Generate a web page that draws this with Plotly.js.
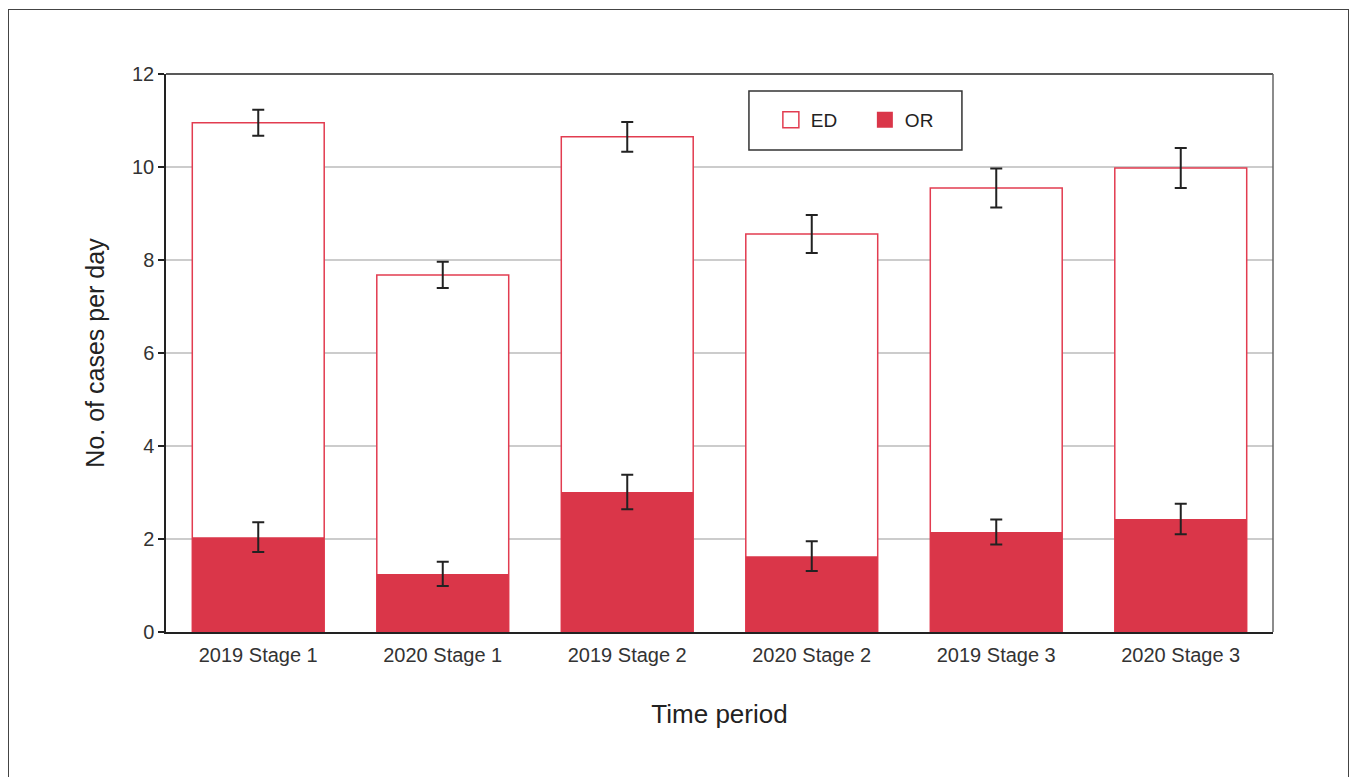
<!DOCTYPE html>
<html><head><meta charset="utf-8">
<script src="https://cdn.plot.ly/plotly-3.0.1.min.js"></script>
<style>
html,body{margin:0;padding:0;background:#fff;overflow:hidden}
#frame{position:absolute;left:8px;top:9px;width:1341px;height:800px;border:1.5px solid #444;box-sizing:border-box;pointer-events:none;z-index:5}
#chart{width:1355px;height:777px}
</style></head>
<body>
<div id="frame"></div>
<div id="chart"></div>
<script>
const categories = ["2019 Stage 1","2020 Stage 1","2019 Stage 2","2020 Stage 2","2019 Stage 3","2020 Stage 3"];
const edValues = [10.95, 7.68, 10.65, 8.56, 9.55, 9.98];
const edErrors = [0.28, 0.28, 0.32, 0.41, 0.42, 0.43];
const orValues = [2.04, 1.25, 3.01, 1.63, 2.15, 2.43];
const orErrors = [0.32, 0.26, 0.37, 0.32, 0.27, 0.33];
const seriesNames = ["ED", "OR"];

const red = "rgb(218,54,73)";
const edLine = "rgb(226,60,80)";
const traces = [
  {type:"bar", name:seriesNames[0], x:categories, y:edValues, showlegend:false,
   marker:{color:"#ffffff", line:{color:edLine, width:1.5}},
   error_y:{type:"data", array:edErrors, visible:true, color:"#222", thickness:2, width:6}},
  {type:"bar", name:seriesNames[1], x:categories, y:orValues, showlegend:false,
   marker:{color:red, line:{color:red, width:0}},
   error_y:{type:"data", array:orErrors, visible:true, color:"#222", thickness:2, width:6}},
  {type:"scatter", mode:"markers", name:seriesNames[0], x:[null], y:[null],
   marker:{symbol:"square", size:16, color:"#fff", line:{color:edLine, width:1.5}}},
  {type:"scatter", mode:"markers", name:seriesNames[1], x:[null], y:[null],
   marker:{symbol:"square", size:16, color:red, line:{color:red, width:0}}}
];
const font = "Liberation Sans, Arial, sans-serif";
const layout = {
  width:1355, height:777,
  margin:{l:166, r:82, t:74, b:145},
  barmode:"overlay", bargap:0.285,
  paper_bgcolor:"rgba(0,0,0,0)", plot_bgcolor:"#fff",
  font:{family:font, color:"#333", size:20},
  xaxis:{type:"category", showline:true, linecolor:"#222", linewidth:1.5, mirror:false,
    ticks:"", tickfont:{size:20, color:"#333"}, ticklabelstandoff:4,
    title:{text:"Time period", font:{size:26, color:"#222"}, standoff:40}},
  yaxis:{range:[0,12], dtick:2, showline:true, linecolor:"#222", linewidth:1.5,
    ticks:"outside", ticklen:6, tickcolor:"#222", tickwidth:1.5,
    showgrid:true, gridcolor:"#cccccc", gridwidth:2, zeroline:false,
    tickfont:{size:20, color:"#333"},
    title:{text:"No. of cases per day", font:{size:25, color:"#222"}, standoff:20}},
  showlegend:true,
  legend:{orientation:"h", x:0.5464, y:0.9176, xanchor:"left", yanchor:"middle",
    bgcolor:"rgba(0,0,0,0)", borderwidth:0,
    font:{size:19, color:"#222"}, itemwidth:30, entrywidth:49, tracegroupgap:0},
  shapes:[
    {type:"line", xref:"paper", yref:"paper", x0:0, x1:1, y0:1, y1:1, line:{color:"#222", width:1.5}},
    {type:"line", xref:"paper", yref:"paper", x0:1, x1:1, y0:0, y1:1, line:{color:"#666", width:1.5}},
    {type:"rect", xref:"paper", yref:"paper", x0:0.5266, x1:0.719, y0:0.8638, y1:0.9695,
     fillcolor:"#fff", line:{color:"#333", width:1.5}, layer:"above"}
  ]
};
Plotly.newPlot("chart", traces, layout, {displayModeBar:false});
</script>
</body></html>
